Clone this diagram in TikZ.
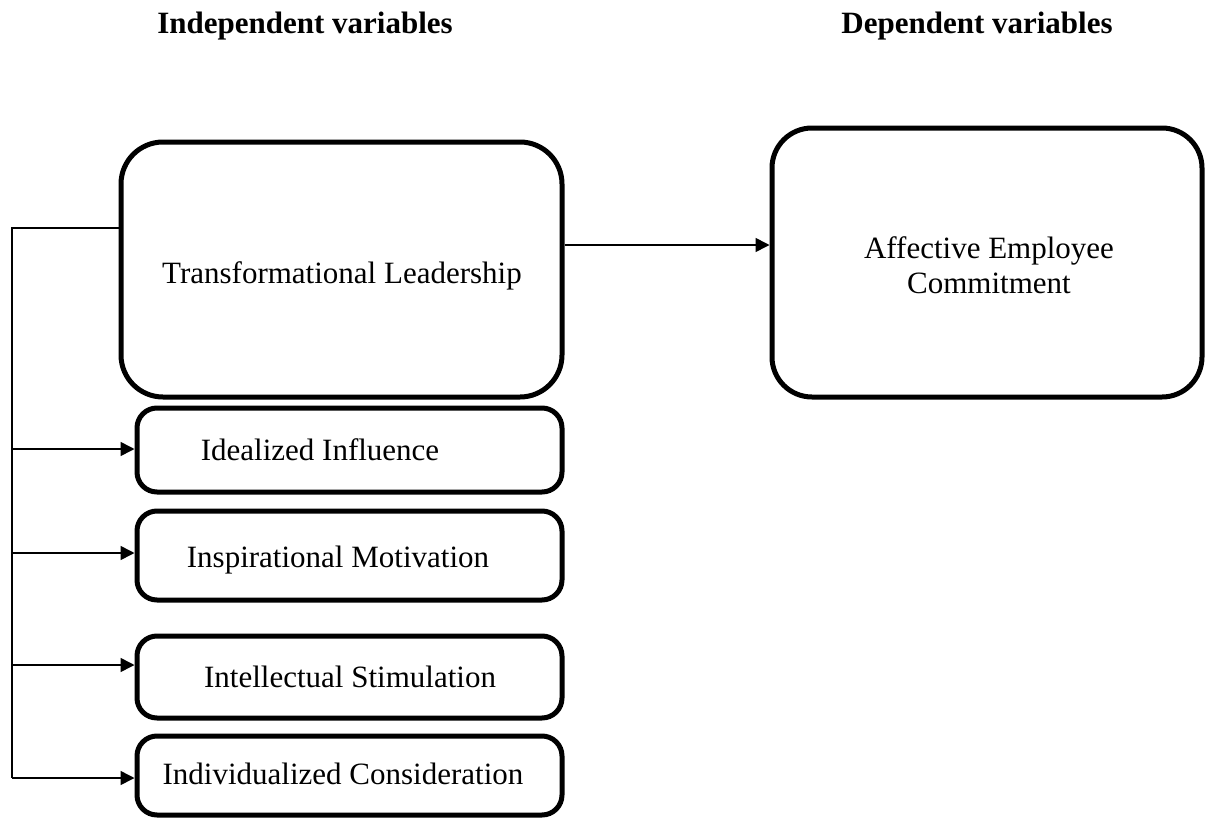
\documentclass[tikz,border=0pt]{standalone}
\usepackage{fontspec}
\setmainfont{Liberation Serif}
\usetikzlibrary{arrows.meta,fit}
\begin{document}
\begin{tikzpicture}[x=0.5pt,y=-0.5pt,
  bigbox/.style={draw=black,line width=2.5pt,rounded corners=21pt,inner sep=0pt},
  smallbox/.style={draw=black,line width=2.5pt,rounded corners=10pt,inner sep=0pt},
  txt/.style={inner sep=0pt,anchor=base,font=\fontsize{15.5}{17.5}\selectfont},
  ttl/.style={txt,font=\fontsize{15.5}{17.5}\selectfont\bfseries},
  conn/.style={line width=0.8pt,draw=black},
  arr/.style={conn,-{Triangle[length=7pt,width=7pt]}}]
\useasboundingbox (0,0) rectangle (1205,819);
% titles
\node[ttl] (tindep) at (305,33) {Independent variables};
\node[ttl] (tdep) at (977,33) {Dependent variables};
% boxes
\node[bigbox,fit={(121,142)(562,397)}] (tl) {};
\node[bigbox,rounded corners=20pt,fit={(772,128)(1202,397)}] (aec) {};
\node[smallbox,fit={(137,408)(562,492)}] (ii) {};
\node[smallbox,fit={(137,511)(562,600)}] (im) {};
\node[smallbox,fit={(137,636)(562,718)}] (is) {};
\node[smallbox,fit={(137,736)(562,815)}] (ic) {};
% texts
\node[txt] (ttl1) at (342,283) {Transformational Leadership};
\node[txt,anchor=center,align=center] (taec) at (989,265) {Affective Employee\\Commitment};
\node[txt] (tii) at (320,460) {Idealized Influence};
\node[txt] (tim) at (338,567) {Inspirational Motivation};
\node[txt] (tis) at (350,687) {Intellectual Stimulation};
\node[txt] (tic) at (343,784) {Individualized Consideration};
% connectors
\coordinate (top) at (12,228);
\coordinate (j1) at (12,449);
\coordinate (j2) at (12,553);
\coordinate (j3) at (12,665);
\coordinate (j4) at (12,778);
\coordinate (m) at (0,245);
\draw[conn] (tl.west |- top) -- (top) -- (j4);
\draw[arr] (j1) -- (j1 -| ii.west);
\draw[arr] (j2) -- (j2 -| im.west);
\draw[arr] (j3) -- (j3 -| is.west);
\draw[arr] (j4) -- (j4 -| ic.west);
\draw[arr] (m -| tl.east) -- (m -| aec.west);
\end{tikzpicture}
\end{document}
